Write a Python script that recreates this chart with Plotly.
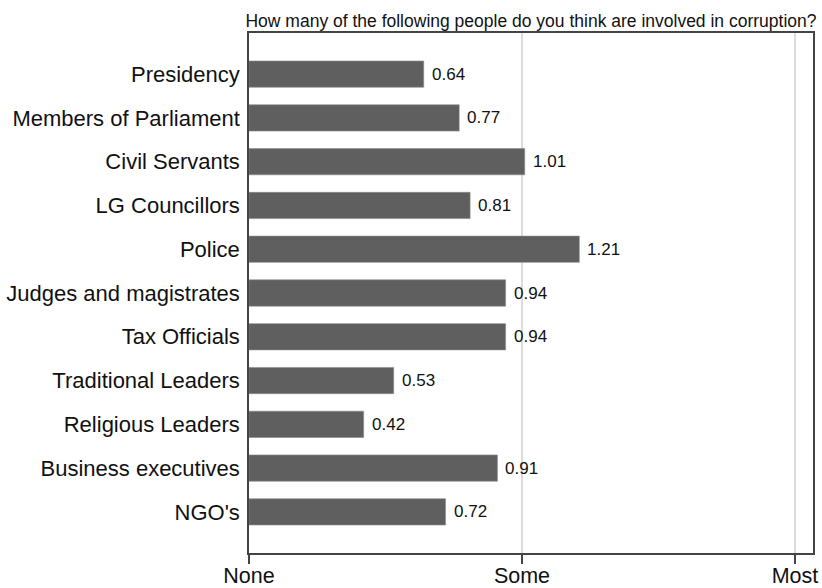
import plotly.graph_objects as go

categories = ["Presidency", "Members of Parliament", "Civil Servants", "LG Councillors",
              "Police", "Judges and magistrates", "Tax Officials", "Traditional Leaders",
              "Religious Leaders", "Business executives", "NGO's"]
values = [0.64, 0.77, 1.01, 0.81, 1.21, 0.94, 0.94, 0.53, 0.42, 0.91, 0.72]
tick_vals = [0, 1, 2]
tick_labels = ["None", "Some", "Most"]
title = "How many of the following people do you think are involved in corruption?"

FONT = "Liberation Sans, Arial, sans-serif"

fig = go.Figure()
fig.add_trace(go.Bar(
    x=values, y=categories, orientation="h",
    marker=dict(color="#5f5f5f", line=dict(color="#8a8a8a", width=0.6)),
    width=0.6,
    hoverinfo="x+y",
))

for c, v in zip(categories, values):
    fig.add_annotation(x=v, y=c, text=f"{v:.2f}", showarrow=False,
                       xanchor="left", xshift=6,
                       font=dict(family=FONT, size=17, color="#111"))

fig.update_layout(
    width=822, height=588,
    margin=dict(l=249, r=9, t=33, b=35, autoexpand=False),
    plot_bgcolor="white", paper_bgcolor="white",
    showlegend=False,
    title=dict(text=title, x=0.5, xref="paper", xanchor="center",
               y=1, yref="paper", yanchor="bottom", pad=dict(b=6),
               font=dict(family=FONT, size=17.5, color="#111")),
    font=dict(family=FONT, color="#111"),
)
fig.update_xaxes(range=[0, 2.066], tickvals=tick_vals, ticktext=tick_labels,
                 showgrid=True, gridcolor="#dcdcdc", gridwidth=1.5,
                 showline=True, linecolor="#444", linewidth=1.5, mirror=True,
                 ticks="outside", ticklen=9, tickcolor="#444", tickwidth=1.5,
                 tickfont=dict(size=21.5), zeroline=False, automargin=False,
                 ticklabelstandoff=-7)
fig.update_yaxes(autorange=False, range=[10.94, -0.94], categoryorder="array",
                 categoryarray=categories,
                 showline=True, linecolor="#444", linewidth=1.5, mirror=True,
                 ticks="", tickfont=dict(size=22), showgrid=False,
                 ticklabelstandoff=3, automargin=False)

fig.write_html("out.html", config={"displayModeBar": False},
               post_script="document.body.style.margin='0';document.body.style.overflow='hidden';")
